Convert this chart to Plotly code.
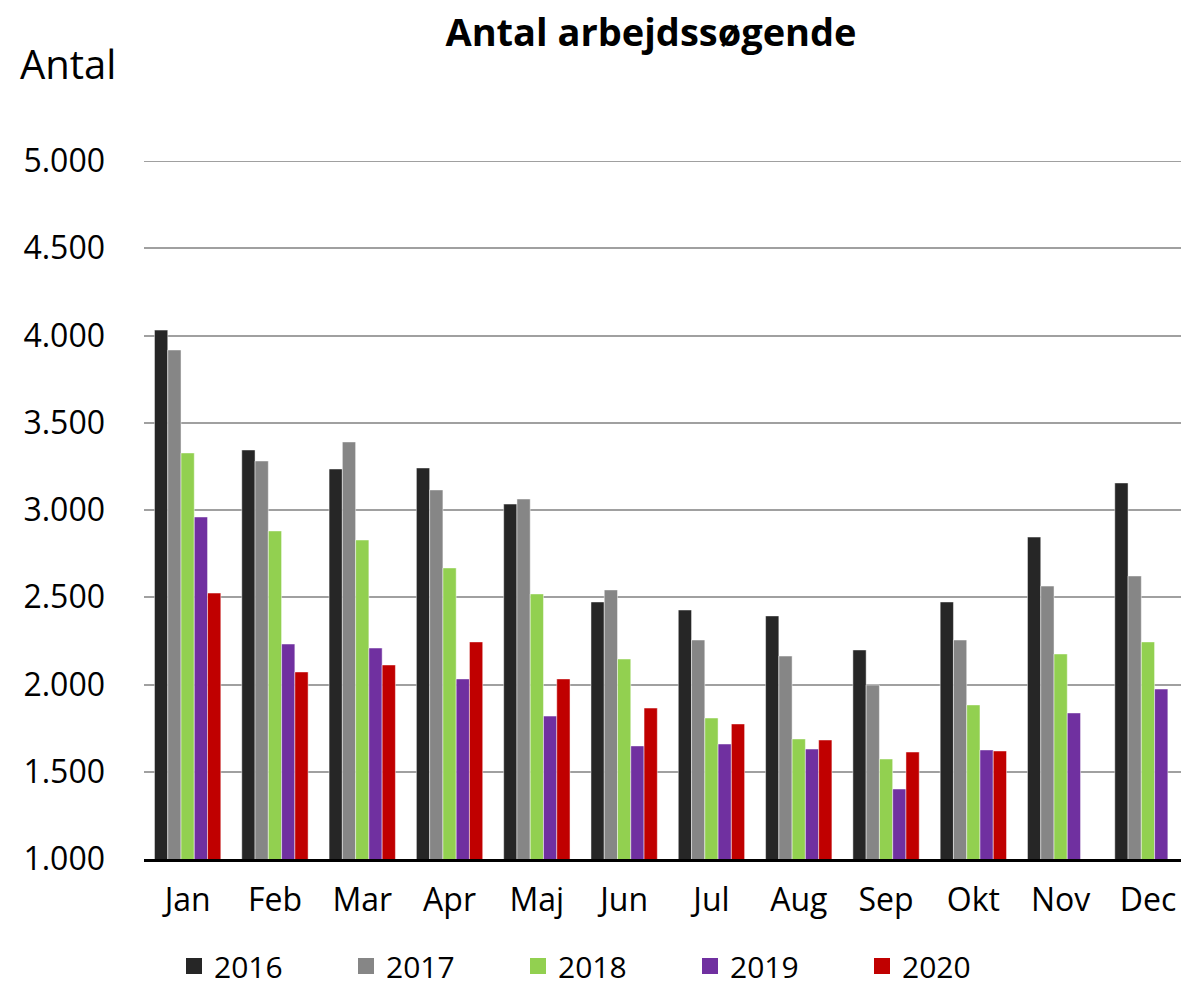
import plotly.graph_objects as go

months = ["Jan", "Feb", "Mar", "Apr", "Maj", "Jun", "Jul", "Aug", "Sep", "Okt", "Nov", "Dec"]
years = ["2016", "2017", "2018", "2019", "2020"]
colors = ["#262626", "#868686", "#92D050", "#7030A0", "#C00000"]

v2016 = [4031, 3344, 3235, 3241, 3034, 2473, 2427, 2393, 2198, 2473, 2845, 3155]
v2017 = [3917, 3281, 3390, 3115, 3063, 2542, 2255, 2163, 1997, 2255, 2564, 2622]
v2018 = [3327, 2880, 2828, 2668, 2519, 2146, 1808, 1688, 1573, 1883, 2175, 2244]
v2019 = [2960, 2232, 2209, 2032, 1819, 1648, 1659, 1630, 1401, 1625, 1837, 1974]
v2020 = [2524, 2072, 2112, 2244, 2032, 1865, 1774, 1682, 1613, 1619, None, None]

series = [v2016, v2017, v2018, v2019, v2020]

FONT = "Open Sans"
W, H = 1181, 989
ML, MT = 144, 161
MB = H - 859
PW = W - ML
PH = H - MT - MB
STEP = 87.3

fig = go.Figure()
for name, vals, col in zip(years, series, colors):
    fig.add_trace(go.Bar(
        x=months, y=vals, name=name, legendgroup=name, showlegend=False,
        marker=dict(color=col, line=dict(color="rgba(255,255,255,0.6)", width=0.8)),
    ))
# legend entries with larger square symbols
for name, col in zip(years, colors):
    fig.add_trace(go.Scatter(
        x=[None], y=[None], mode="markers", name=name, legendgroup=name,
        marker=dict(symbol="square", size=16, color=col),
    ))

fig.update_layout(
    width=W, height=H,
    barmode="group", bargap=0.24, bargroupgap=0,
    paper_bgcolor="white", plot_bgcolor="white",
    margin=dict(l=ML, r=0, t=MT, b=MB, autoexpand=False),
    separators=",.",
    font=dict(family=FONT, color="black", size=32),
    title=dict(text="<b>Antal arbejdssøgende</b>", x=651 / W, xanchor="center",
               y=1 - 33 / H, yanchor="middle", font=dict(size=38, family=FONT)),
    showlegend=True,
    legend=dict(orientation="h", x=(174 - ML) / PW, xanchor="left",
                y=-(966 - 859) / PH, yanchor="middle", bgcolor="rgba(0,0,0,0)",
                font=dict(size=30, family=FONT), entrywidth=127, entrywidthmode="pixels",
                traceorder="normal"),
    shapes=[dict(type="line", xref="paper", yref="y", x0=0, x1=1, y0=5000, y1=5000,
                 line=dict(color="#A0A0A0", width=2), layer="below")],
)

fig.update_xaxes(
    range=[-0.5, -0.5 + PW / STEP], showgrid=False,
    showline=True, linecolor="black", linewidth=2.5,
    ticks="", ticklabelstandoff=11,
    tickfont=dict(size=32, family=FONT),
)
fig.update_yaxes(
    range=[1000, 5000], tickvals=[1000, 1500, 2000, 2500, 3000, 3500, 4000, 4500, 5000],
    tickformat=",d",
    showgrid=True, gridcolor="#A0A0A0", gridwidth=2,
    zeroline=False, showline=False, ticks="", ticklabelstandoff=38,
    tickfont=dict(size=32, family=FONT),
)

fig.add_annotation(text="Antal", xref="paper", yref="paper",
                   x=(18 - ML) / PW, xanchor="left",
                   y=1 + (MT - 64) / PH, yanchor="middle",
                   showarrow=False, font=dict(size=40, family=FONT))

fig.write_html("out.html", config={"displayModeBar": False},
               post_script="document.body.style.margin='0';document.body.style.overflow='hidden';")
